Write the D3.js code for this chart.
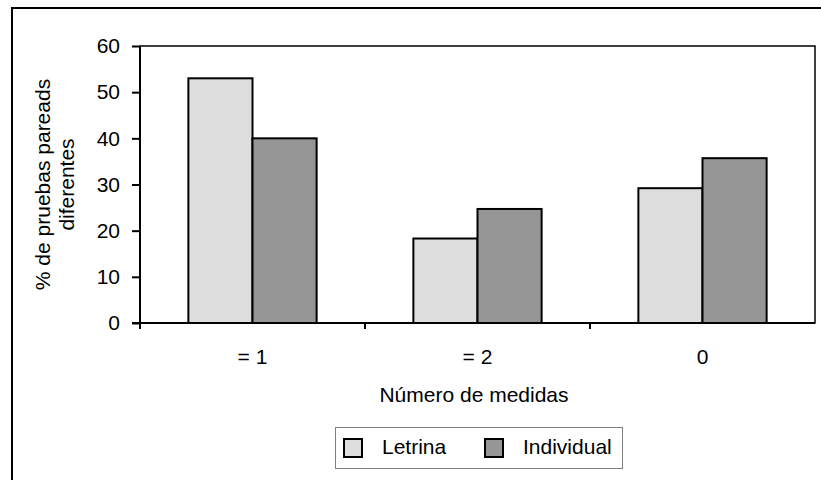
<!DOCTYPE html>
<html><head><meta charset="utf-8">
<script src="https://cdn.jsdelivr.net/npm/d3@7"></script>
<style>body{margin:0;background:#fff}svg{display:block}text{font-family:"Liberation Sans",Arial,sans-serif;fill:#000}</style>
</head><body>
<svg id="c" width="821" height="480"></svg>
<script>
const categories = ["= 1", "= 2", "0"];
const seriesNames = ["Letrina", "Individual"];
const letrina = [53, 18.3, 29.2];
const individual = [40, 24.7, 35.7];
const yTicks = [0, 10, 20, 30, 40, 50, 60];
const colors = ["#dddddd", "#969696"];

const svg = d3.select("#c");
const fs = 21;
// outer frame
svg.append("rect").attr("x", 12).attr("y", 8).attr("width", 830).attr("height", 500)
  .attr("fill", "none").attr("stroke", "#000").attr("stroke-width", 2);

const L = 140, R = 815, T = 46, B = 323;
const x0 = d3.scaleBand().domain(categories).range([L, R]).paddingInner(0.43).paddingOuter(0.215);
const x1 = d3.scaleBand().domain(seriesNames).range([0, x0.bandwidth()]);
const y = d3.scaleLinear().domain([0, 60]).range([B, T]);

// plot frame
svg.append("rect").attr("x", L).attr("y", T).attr("width", R - L).attr("height", B - T)
  .attr("fill", "none").attr("stroke", "#000").attr("stroke-width", 1.5);

const data = categories.map((c, i) => ({c, vals: [letrina[i], individual[i]]}));
const g = svg.append("g");
data.forEach(d => {
  d.vals.forEach((v, j) => {
    g.append("rect")
      .attr("x", x0(d.c) + x1(seriesNames[j]))
      .attr("y", y(v))
      .attr("width", x1.bandwidth())
      .attr("height", y(0) - y(v))
      .attr("fill", colors[j]).attr("stroke", "#000").attr("stroke-width", 2);
  });
});

// y axis
const ya = svg.append("g").attr("transform", `translate(${L},0)`)
  .call(d3.axisLeft(y).tickValues(yTicks).tickSize(8).tickPadding(12));
ya.select(".domain").attr("stroke", "#000").attr("stroke-width", 2).attr("d", `M0,${T}V${B}`);
ya.selectAll(".tick line").attr("stroke", "#000").attr("stroke-width", 2);
ya.selectAll("text").attr("font-size", fs).attr("font-family", '"Liberation Sans",Arial,sans-serif');

// x axis
const xa = svg.append("g").attr("transform", `translate(0,${B})`);
xa.append("line").attr("x1", L - 8).attr("x2", R).attr("y1", 0).attr("y2", 0).attr("stroke", "#000").attr("stroke-width", 2);
const bounds = [L, ...categories.map(c => x0(c) + x0.bandwidth() + x0.step() * x0.paddingInner() / 2)];
bounds.slice(0, 3).forEach(b => {
  xa.append("line").attr("x1", b).attr("x2", b).attr("y1", 0).attr("y2", 6).attr("stroke", "#000").attr("stroke-width", 2);
});
categories.forEach(c => {
  xa.append("text").attr("x", x0(c) + x0.bandwidth() / 2).attr("y", 34).attr("dy", "0.35em")
    .attr("text-anchor", "middle").attr("font-size", fs).text(c);
});

svg.append("text").attr("x", 474).attr("y", 395).attr("dy", "0.35em").attr("text-anchor", "middle")
  .attr("font-size", fs).text("Número de medidas");

const yl = svg.append("text").attr("transform", `translate(54,${(T + B) / 2}) rotate(-90)`)
  .attr("text-anchor", "middle").attr("font-size", fs);
yl.append("tspan").attr("x", 0).attr("dy", "-0.2em").text("% de pruebas pareads");
yl.append("tspan").attr("x", 0).attr("dy", "1.15em").text("diferentes");

// legend
const lg = svg.append("g");
lg.append("rect").attr("x", 335.5).attr("y", 427.5).attr("width", 287).attr("height", 41)
  .attr("fill", "#fff").attr("stroke", "#808080").attr("stroke-width", 1);
const legX = [344, 485];
seriesNames.forEach((s, j) => {
  lg.append("rect").attr("x", legX[j]).attr("y", 439).attr("width", 18).attr("height", 18)
    .attr("fill", colors[j]).attr("stroke", "#000").attr("stroke-width", 2);
  lg.append("text").attr("x", legX[j] + 38).attr("y", 447).attr("dy", "0.35em")
    .attr("font-size", fs).text(s);
});
</script>
</body></html>
